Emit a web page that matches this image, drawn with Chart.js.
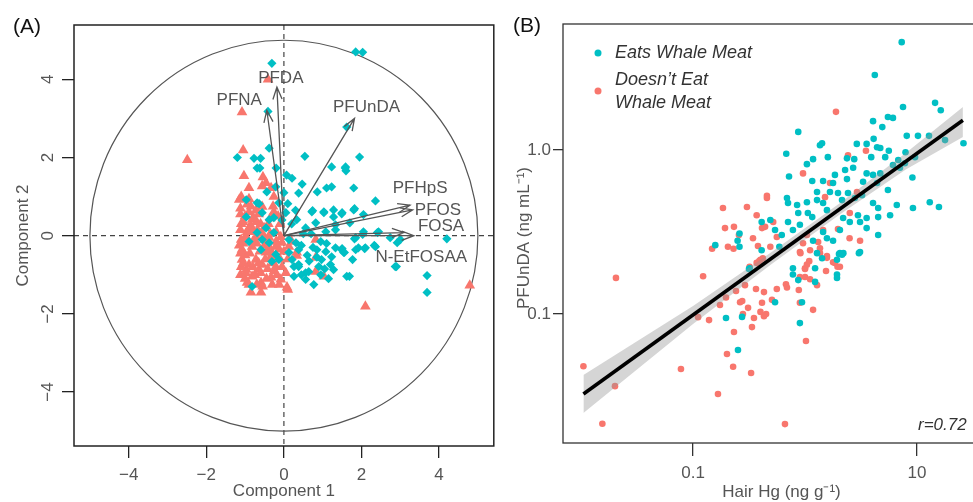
<!DOCTYPE html>
<html>
<head>
<meta charset="utf-8">
<script src="https://cdn.jsdelivr.net/npm/chart.js@4.4.1/dist/chart.umd.min.js"></script>
<style>
  html, body { margin: 0; padding: 0; width: 973px; height: 502px; overflow: hidden; background: #fff; }
  #pcaChart { position: absolute; left: 0; top: 0; }
  #hgChart { position: absolute; left: 490px; top: 0; }
</style>
</head>
<body>
<canvas id="pcaChart" width="500" height="502"></canvas>
<canvas id="hgChart" width="520" height="502"></canvas>
<script>
// ---- Panel A: PCA scores (Component 1, Component 2) ----
const pcaEats = [
  [1.85,4.7],[2.03,4.69],[-0.31,4.41],[-0.41,3.18],[1.62,2.78],[-0.38,2.24],[-1.2,2.0],[-0.77,1.98],
  [-0.6,1.98],[-0.69,1.73],[-0.62,1.73],[-0.2,1.73],[0.54,2.03],[0.07,1.55],[0.21,1.47],[0.47,1.32],
  [0.38,1.09],[0.86,1.12],[1.1,1.22],[1.23,1.25],[1.23,1.76],[1.58,1.73],[1.95,2.01],[1.59,1.76],
  [1.6,1.66],[1.8,1.22],[2.36,0.89],[1.82,0.69],[1.5,0.59],[1.7,0.33],[2.03,0.03],[2.41,0.08],
  [1.82,-0.08],[2.92,-0.18],[4.2,-0.08],[1.92,-0.31],[2.08,-0.33],[2.33,-0.25],[1.5,-0.33],[1.56,-0.43],
  [1.77,-0.61],[2.9,-0.79],[1.69,-1.04],[3.69,-1.02],[3.69,-1.45],
  [-0.97,0.48],[-0.64,0.82],[-0.56,0.59],[-0.38,0.41],[-0.26,0.46],[0.1,0.82],[0.05,0.59],[0.33,0.41],
  [0.72,0.61],[1.03,0.59],[1.28,0.66],[1.49,0.56],[1.28,0.48],[0.82,0.33],[0.56,0.2],[1.08,0.1],
  [1.33,0.28],[0.13,-0.1],[0.31,-0.18],[0.38,-0.36],[0.13,-0.43],[0.85,-0.36],[1.08,-0.41],[1.33,-0.31],
  [1.49,-0.36],[1.23,-0.54],[0.97,-0.61],[1.2,-0.74],[1.28,-0.87],[0.9,-0.79],[0.64,-0.92],[0.38,-0.74],
  [0.21,-0.61],[0.26,-1.04],[0.56,-1.12],[0.77,-1.25],[1.62,-1.04],[-0.82,-1.3],[-0.31,-0.66],[-0.13,-0.61],
  [-0.59,-0.36],[-0.56,-0.1],[-0.69,0.08],[-0.38,-0.18],[-0.9,-0.15],[-0.46,0.2],[-0.26,0.08],[-0.21,-0.48],
  [-0.44,1.12],[-0.21,1.25],[0.0,1.1],[-0.97,0.92],[-0.69,0.84],[-0.13,0.84],
  [0.74,0.64],[1.03,0.61],[1.8,0.66],[2.05,0.54],[1.33,0.15],[1.85,-0.05],[2.05,0.1],[2.44,0.1],
  [2.74,-0.05],[3.0,-0.1],[2.1,-0.31],[2.36,-0.28],[1.85,-0.36],[1.54,-0.43],[2.87,-0.79],[0.38,-0.79],
  [0.56,-0.95],[0.26,-0.79],
  [0.45,-0.25],[0.6,-0.5],[0.75,-0.3],[0.95,-0.15],[0.5,0.05],[0.7,0.05],[0.45,-1.0],[0.95,-1.0],
  [1.15,-1.1],[0.65,-0.65],[1.05,-0.85],[0.2,0.3],[0.3,0.65],[-0.05,0.4],[1.1,-0.2],[0.85,-0.55]
];
const pcaNotEats = [
  [-2.49,1.94],[-0.41,4.0],[-1.08,3.16],[-1.05,2.19],[-1.03,1.53],[-0.9,1.22],[-0.54,1.5],[-0.46,1.35],
  [-0.56,1.27],[-1.1,1.0],[-0.9,0.94],[-0.33,1.22],[-0.26,1.0],
  [-0.82,0.41],[-0.9,0.2],[-0.51,0.2],[-0.26,0.61],[-0.56,0.74],[-1.15,0.92],[-0.97,-0.03],[-0.72,-0.03],
  [-0.38,-0.05],[-0.08,-0.03],[-1.08,-0.36],[-0.82,-0.28],[-0.38,-0.28],[-0.05,-0.18],[0.13,-0.28],
  [0.33,-0.43],[-1.08,-0.61],[-0.72,-0.61],[-0.33,-0.54],[-0.97,-0.87],[-0.64,-0.87],[-0.21,-0.79],
  [-0.82,-1.04],[-0.33,-1.07],[-0.08,-1.12],[0.82,-0.56],[0.82,-0.92],[1.03,-1.04],[-0.59,-1.2],
  [-0.85,-1.45],[-0.59,-1.45],[0.08,-1.32],[-0.9,-1.25],[-0.18,-1.0],[-0.46,-0.43],[-0.21,-0.28],
  [-0.9,-0.74],[-0.56,-0.74],[-1.1,-0.1],[0.0,-0.41],
  [2.1,-1.81],[4.79,-1.27],[0.1,-1.38],[0.33,-0.51],[0.82,-0.1],
  [-1.0,0.5],[-0.9,0.6],[-1.1,0.3],[-0.8,0.1],[-0.6,0.3],[-0.7,-0.2],[-0.5,-0.1],[-0.4,-0.4],
  [-1.0,-0.5],[-0.6,-0.95],[-0.3,-0.7],[-0.1,-0.6],[-1.05,-0.2],[-1.1,-0.8],[-0.75,-1.0],[-0.45,-1.1],
  [-0.1,0.3],[-0.2,0.1],[-0.95,0.1],[-0.65,0.55],[-0.35,0.45],[-1.12,0.7],[-1.0,-1.1],[-0.7,0.35],
  [-0.2,-0.15],
  [-1.12,0.55],[-1.05,0.35],[-1.12,0.15],[-1.0,-0.05],[-1.12,-0.45],[-1.05,-0.7],[-1.12,-1.0],[-0.95,-1.2],
  [-0.85,0.75],[-0.78,0.45],[-0.85,0.25],[-0.8,-0.15],[-0.88,-0.45],[-0.8,-0.8],[-0.7,-1.25],[-0.68,0.15],
  [-0.62,-0.4],[-0.65,-0.7],[-0.55,0.05],[-0.5,-0.25],[-0.48,-0.6],[-0.42,-0.85],[-0.4,0.3],[-0.35,0.05],
  [-0.3,-0.45],[-0.25,-0.9],[-0.28,0.75],[-0.15,0.5],[-0.12,-0.35],[-0.05,-0.8],[-0.12,-1.25],[-0.95,0.8],
  [-0.72,0.65],[-1.15,-0.25],[-0.98,-0.95],[-0.55,-1.3],[-0.3,-1.25],[0.05,-0.95],[0.1,-0.6],[0.2,-0.15]
];
const loadingNames = ['PFDA', 'PFNA', 'PFUnDA', 'PFHpS', 'PFOS', 'FOSA', 'N-EtFOSAA'];
const loadingX = [-0.18, -0.44, 1.82, 3.25, 3.32, 3.35, 3.1];
const loadingY = [3.8, 3.21, 3.0, 0.78, 0.66, 0.0, 0.08];
const circleRadius = 5;
const pcaTicks = [-4, -2, 0, 2, 4];
const pcaTickLabels = ['\u22124', '\u22122', '0', '2', '4'];

// ---- Panel B: PFUnDA vs hair Hg ----
const hgEats = [
  [7.3,4.55],[4.2,2.87],[7.5,1.83],[14.5,1.94],[16.3,1.75],[4.05,1.5],[5.5,1.59],[6.1,1.57],[4.9,1.38],
  [0.87,1.29],[8.1,1.22],[10.2,1.22],[12.8,1.22],[26,1.1],[17.8,1.15],[4.1,1.17],[2.9,1.09],[3.55,1.09],
  [4.4,1.04],[4.7,1.03],[1.42,1.1],[1.36,1.07],[0.68,0.95],[1.6,0.905],[1.18,0.88],[1.04,0.82],[2.37,0.89],
  [2.75,0.88],[3.9,0.905],[5.2,0.905],[5.6,0.99],[7.9,0.97],[9.6,0.905],[6.8,0.87],[2.28,0.755],[2.69,0.78],
  [3.55,0.72],[6.1,0.81],[0.72,0.69],[1.85,0.705],[9.1,0.68],
  [4.05,0.705],[4.7,0.72],[7.05,0.78],[7.8,0.83],[2.37,0.665],[1.16,0.647],[1.45,0.647],[1.78,0.63],
  [3.3,0.64],[4.4,0.63],[5.5,0.57],[1.28,0.555],[1.67,0.555],[1.97,0.547],[2.42,0.547],[2.14,0.495],
  [2.79,0.51],[3.23,0.53],[4.05,0.475],[4.5,0.443],[6.6,0.462],[9.2,0.443],[13,0.48],[15.7,0.449],
  [0.69,0.51],[0.705,0.475],[0.85,0.462],[1.04,0.48],[1.28,0.495],[1.45,0.475],[1.57,0.43],[0.87,0.413],
  [1.06,0.413],[1.16,0.39],[0.705,0.364],[2.19,0.385],[2.51,0.364],[2.97,0.4],[3.55,0.385],[3.55,0.334],
  [4.5,0.39],[5.75,0.4],[0.41,0.364],[0.49,0.374],[0.54,0.325],[0.62,0.303],[0.26,0.31],[0.25,0.28],
  [0.26,0.257],[0.158,0.263],[0.78,0.325],[0.9,0.35],[1.45,0.316],[1.57,0.29],[2.05,0.325],[3.1,0.364],
  [1.18,0.28],[1.78,0.28],[2.05,0.235],[2.2,0.235],[3.1,0.239],[4.5,0.303],[1.28,0.235],[1.42,0.219],
  [1.93,0.214],[0.78,0.19],[0.78,0.174],[1.23,0.19],[1.93,0.174],[0.32,0.19],[0.59,0.257],[0.41,0.245],
  [0.252,0.0603],[0.197,0.0946],[0.274,0.096],[0.54,0.118],[0.9,0.088],[0.94,0.118],[0.87,0.161],
  [1.23,0.157],[1.93,0.166],[2.01,0.232],[2.14,0.23],[3.03,0.235],[0.316,0.188]
];
const hgNotEats = [
  [1.89,1.71],[3.5,0.99],[2.42,0.93],[0.96,0.72],
  [0.457,0.51],[0.457,0.526],[0.185,0.443],[0.303,0.449],[0.37,0.4],[0.52,0.364],[0.232,0.34],[0.193,0.334],
  [0.413,0.334],[0.44,0.34],[0.257,0.303],[0.343,0.29],[0.56,0.295],[0.148,0.25],[0.205,0.257],[0.38,0.26],
  [0.49,0.257],[0.4,0.214],[0.37,0.205],[0.123,0.17],[1.67,0.63],[1.51,0.516],[2.91,0.555],[2.51,0.413],
  [1.45,0.325],[1.97,0.33],[1.31,0.275],[0.96,0.27],[1.04,0.303],[1.11,0.245],[0.9,0.239],[1.36,0.252],
  [1.57,0.22],[1.78,0.207],[2.05,0.194],[1.0,0.19],[0.9,0.168],[1.0,0.168],[3.1,0.28],[2.5,0.29],
  [0.0105,0.048],[0.0205,0.166],[0.0201,0.0363],[0.0155,0.0214],[0.078,0.0462],[0.111,0.0957],
  [0.139,0.0918],[0.174,0.1135],[0.197,0.126],[0.242,0.138],[0.291,0.15],[0.263,0.118],[0.275,0.12],
  [0.31,0.109],[0.279,0.1],[0.35,0.0946],[0.4,0.103],[0.449,0.1],[0.43,0.097],[0.413,0.117],[0.365,0.142],
  [0.43,0.136],[0.507,0.122],[0.56,0.142],[0.676,0.152],[0.69,0.145],[0.336,0.0832],[0.232,0.0776],
  [0.201,0.057],[0.228,0.0477],[0.33,0.0437],[0.167,0.0325],[0.662,0.0213],[1.02,0.0684],[1.18,0.106],
  [0.9,0.117],[0.88,0.14],[1.28,0.15],[1.11,0.163],[1.0,0.188],[1.04,0.2],[1.09,0.21],[1.54,0.183],
  [1.85,0.205],[1.95,0.194],[1.57,0.226],[1.36,0.235],[0.91,0.235],[0.42,0.219],[0.39,0.21],[0.32,0.194],
  [0.23,0.25]
];
const fitX = [0.0105, 25.7];
const fitY = [0.0325, 1.52];
const bandX = [0.0105, 0.1, 0.5, 2.0, 7.94, 25.7];
const bandUpper = [0.0425, 0.112, 0.238, 0.468, 0.96, 1.83];
const bandLower = [0.0249, 0.087, 0.201, 0.40, 0.76, 1.2];
const hgTicks = [0.1, 10];
const hgTickLabels = ['0.1', '10'];
const pfTicks = [0.1, 1];
const pfTickLabels = ['0.1', '1.0'];
const groupLabels = ['Eats Whale Meat', 'Doesn\u2019t Eat Whale Meat'];
const correlationText = 'r=0.72';

const colEat = '#00BFC4';
const colNot = '#F8766D';
const family = "'Liberation Sans', Arial, sans-serif";

function toPts(pairs) { return pairs.map(p => ({ x: p[0], y: p[1] })); }
function zip(xs, ys) { return xs.map((v, i) => ({ x: v, y: ys[i] })); }

function rotatedText(ctx, text, x, y) {
  ctx.save();
  ctx.translate(x, y);
  ctx.rotate(-Math.PI / 2);
  ctx.fillText(text, 0, 0);
  ctx.restore();
}

// label anchors for the loading arrows (data units)
const arrowLabelAt = {
  'PFDA': [-0.08, 4.03], 'PFNA': [-1.15, 3.47], 'PFUnDA': [2.13, 3.29], 'PFHpS': [3.51, 1.2],
  'PFOS': [3.97, 0.66], 'FOSA': [4.05, 0.23], 'N-EtFOSAA': [3.54, -0.56]
};

const pcaDecor = {
  id: 'pcaDecor',
  beforeDatasetsDraw(chart) {
    const { ctx, chartArea: a, scales: { x, y } } = chart;
    const x0 = x.getPixelForValue(0), y0 = y.getPixelForValue(0);
    ctx.save();
    ctx.strokeStyle = '#444';
    ctx.lineWidth = 1.2;
    ctx.setLineDash([5, 4]);
    ctx.beginPath();
    ctx.moveTo(a.left, y0); ctx.lineTo(a.right, y0);
    ctx.moveTo(x0, a.top); ctx.lineTo(x0, a.bottom);
    ctx.stroke();
    ctx.setLineDash([]);
    const rx = x.getPixelForValue(circleRadius) - x0;
    const ry = y0 - y.getPixelForValue(circleRadius);
    ctx.strokeStyle = '#555';
    ctx.beginPath();
    ctx.ellipse(x0, y0, rx, ry, 0, 0, Math.PI * 2);
    ctx.stroke();
    ctx.restore();
  },
  afterDatasetsDraw(chart) {
    const { ctx, scales: { x, y } } = chart;
    const x0 = x.getPixelForValue(0), y0 = y.getPixelForValue(0);
    ctx.save();
    ctx.strokeStyle = '#555';
    ctx.lineWidth = 1.3;
    loadingNames.forEach((name, i) => {
      const tx = x.getPixelForValue(loadingX[i]);
      const ty = y.getPixelForValue(loadingY[i]);
      const ang = Math.atan2(ty - y0, tx - x0);
      const hl = 13, ha = 0.36;
      ctx.beginPath();
      ctx.moveTo(x0, y0); ctx.lineTo(tx, ty);
      ctx.moveTo(tx - hl * Math.cos(ang - ha), ty - hl * Math.sin(ang - ha));
      ctx.lineTo(tx, ty);
      ctx.lineTo(tx - hl * Math.cos(ang + ha), ty - hl * Math.sin(ang + ha));
      ctx.stroke();
    });
    ctx.fillStyle = '#555';
    ctx.font = '17px ' + family;
    ctx.textAlign = 'center';
    ctx.textBaseline = 'middle';
    loadingNames.forEach(name => {
      const p = arrowLabelAt[name];
      ctx.fillText(name, x.getPixelForValue(p[0]), y.getPixelForValue(p[1]));
    });
    ctx.restore();
  },
  afterDraw(chart) {
    const { ctx, chartArea: a, scales: { y } } = chart;
    ctx.save();
    ctx.strokeStyle = '#222';
    ctx.lineWidth = 1.5;
    ctx.strokeRect(a.left, a.top, a.right - a.left, a.bottom - a.top);
    ctx.fillStyle = '#555';
    ctx.font = '17px ' + family;
    ctx.textAlign = 'center';
    ctx.textBaseline = 'middle';
    pcaTicks.forEach((v, i) => rotatedText(ctx, pcaTickLabels[i], 48, y.getPixelForValue(v)));
    ctx.fillText('Component 1', (a.left + a.right) / 2, 491);
    rotatedText(ctx, 'Component 2', 23, (a.top + a.bottom) / 2);
    ctx.fillStyle = '#111';
    ctx.font = '21px ' + family;
    ctx.fillText('(A)', 27, 27);
    ctx.restore();
  }
};

new Chart(document.getElementById('pcaChart'), {
  type: 'scatter',
  data: {
    datasets: [{
      label: groupLabels[0],
      data: toPts(pcaEats),
      pointStyle: 'rectRot',
      pointRadius: 4.6,
      pointBackgroundColor: colEat,
      pointBorderWidth: 0,
      order: 1
    }, {
      label: groupLabels[1],
      data: toPts(pcaNotEats),
      pointStyle: 'triangle',
      pointRadius: 6.2,
      pointBackgroundColor: colNot,
      pointBorderWidth: 0,
      order: 2
    }]
  },
  options: {
    responsive: false,
    animation: false,
    events: [],
    layout: { padding: { top: 25, right: 5, left: 0, bottom: 0 } },
    plugins: { legend: { display: false }, tooltip: { enabled: false } },
    scales: {
      x: {
        min: -5.41, max: 5.41,
        afterBuildTicks: s => { s.ticks = pcaTicks.map(v => ({ value: v })); },
        afterFit: s => { s.height = 56; },
        grid: { display: true, drawOnChartArea: false, drawTicks: true, tickLength: 12, color: '#222', lineWidth: 1.3 },
        border: { display: false },
        ticks: {
          callback: (v, i) => pcaTickLabels[i],
          font: { size: 17, family: family }, color: '#555', padding: 7, maxRotation: 0, autoSkip: false
        }
      },
      y: {
        min: -5.38, max: 5.39,
        afterBuildTicks: s => { s.ticks = pcaTicks.map(v => ({ value: v })); },
        afterFit: s => { s.width = 74; },
        grid: { display: true, drawOnChartArea: false, drawTicks: true, tickLength: 12, color: '#222', lineWidth: 1.3 },
        border: { display: false },
        ticks: { display: false }
      }
    }
  },
  plugins: [pcaDecor]
});

const hgDecor = {
  id: 'hgDecor',
  afterDraw(chart) {
    const { ctx, chartArea: a } = chart;
    ctx.save();
    ctx.strokeStyle = '#333';
    ctx.lineWidth = 1.3;
    ctx.strokeRect(a.left, a.top, a.right - a.left, a.bottom - a.top);

    // legend inside the plot
    ctx.fillStyle = colEat;
    ctx.beginPath(); ctx.arc(108, 53, 3.5, 0, Math.PI * 2); ctx.fill();
    ctx.fillStyle = colNot;
    ctx.beginPath(); ctx.arc(108, 91, 3.5, 0, Math.PI * 2); ctx.fill();
    ctx.fillStyle = '#333';
    ctx.font = 'italic 18px ' + family;
    ctx.textAlign = 'left';
    ctx.textBaseline = 'middle';
    ctx.fillText(groupLabels[0], 125, 53);
    ctx.fillText('Doesn\u2019t Eat', 125, 80);
    ctx.fillText('Whale Meat', 125, 103);
    ctx.font = 'italic 17px ' + family;
    ctx.fillText(correlationText, 428, 425);

    ctx.fillStyle = '#555';
    ctx.font = '17px ' + family;
    ctx.textAlign = 'center';
    ctx.fillText('Hair Hg (ng g\u207B\u00B9)', (a.left + a.right) / 2, 492);
    rotatedText(ctx, 'PFUnDA (ng mL\u207B\u00B9)', 34, 238);
    ctx.fillStyle = '#111';
    ctx.font = '21px ' + family;
    ctx.fillText('(B)', 37, 26);
    ctx.restore();
  }
};

new Chart(document.getElementById('hgChart'), {
  type: 'scatter',
  data: {
    datasets: [{
      label: groupLabels[0],
      data: toPts(hgEats),
      pointRadius: 3.3,
      pointBackgroundColor: colEat,
      pointBorderWidth: 0,
      order: 3
    }, {
      label: groupLabels[1],
      data: toPts(hgNotEats),
      pointRadius: 3.3,
      pointBackgroundColor: colNot,
      pointBorderWidth: 0,
      order: 4
    }, {
      label: 'upper',
      data: zip(bandX, bandUpper),
      showLine: true,
      borderWidth: 0,
      borderColor: 'rgba(0,0,0,0)',
      pointRadius: 0,
      fill: false,
      order: 2
    }, {
      label: 'lower',
      data: zip(bandX, bandLower),
      showLine: true,
      borderWidth: 0,
      borderColor: 'rgba(0,0,0,0)',
      backgroundColor: 'rgba(150,150,150,0.4)',
      pointRadius: 0,
      fill: '-1',
      order: 2
    }, {
      label: 'fit',
      data: zip(fitX, fitY),
      showLine: true,
      borderColor: '#000',
      borderWidth: 3.6,
      pointRadius: 0,
      order: 1
    }]
  },
  options: {
    responsive: false,
    animation: false,
    events: [],
    layout: { padding: { top: 24, right: 10, left: 0, bottom: 0 } },
    plugins: { legend: { display: false }, tooltip: { enabled: false } },
    scales: {
      x: {
        type: 'logarithmic',
        min: 0.0069, max: 55.1,
        afterBuildTicks: s => { s.ticks = hgTicks.map(v => ({ value: v })); },
        afterFit: s => { s.height = 59; },
        grid: { display: true, drawOnChartArea: false, drawTicks: true, tickLength: 13, color: '#333', lineWidth: 1.3 },
        border: { display: false },
        ticks: {
          callback: (v, i) => hgTickLabels[i],
          font: { size: 17, family: family }, color: '#555', padding: 7, maxRotation: 0, autoSkip: false
        }
      },
      y: {
        type: 'logarithmic',
        min: 0.01634, max: 5.87,
        afterBuildTicks: s => { s.ticks = pfTicks.map(v => ({ value: v })); },
        afterFit: s => { s.width = 73; },
        grid: { display: true, drawOnChartArea: false, drawTicks: true, tickLength: 10, color: '#333', lineWidth: 1.3 },
        border: { display: false },
        ticks: {
          callback: (v, i) => pfTickLabels[i],
          font: { size: 17, family: family }, color: '#555', padding: 2, autoSkip: false
        }
      }
    }
  },
  plugins: [hgDecor]
});
</script>
</body>
</html>
